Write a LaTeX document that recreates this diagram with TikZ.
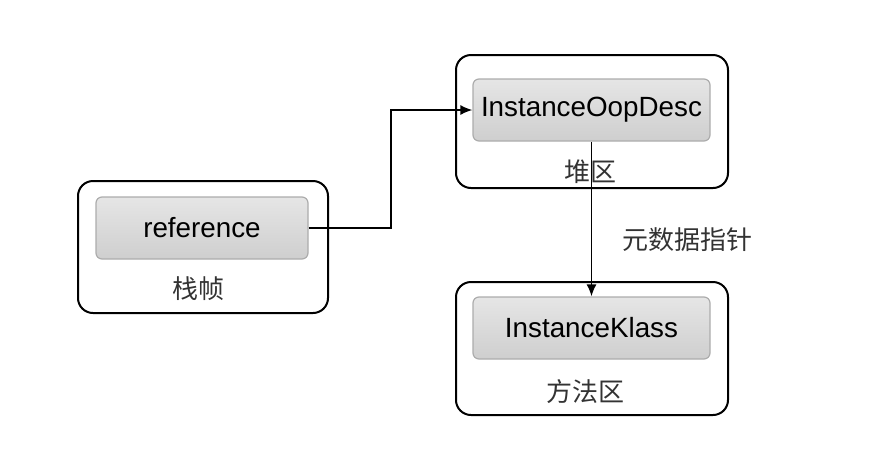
\documentclass[tikz,border=0pt]{standalone}
\usepackage{fontspec}
\setmainfont{Liberation Sans}
\newfontfamily\cjk{Noto Sans CJK SC}
\usetikzlibrary{positioning,arrows.meta}

\tikzset{
  region/.style={draw,line width=1pt,rounded corners=7.5pt,minimum width=136pt,minimum height=66.5pt},
  slot/.style={draw=gray!65,line width=.6pt,rounded corners=3pt,top color=gray!20,bottom color=gray!38,
    minimum width=118.5pt,minimum height=31pt,inner sep=0pt,font=\fontsize{13.9}{16}\selectfont},
  tag/.style={font=\cjk\fontsize{13}{15}\selectfont,text=black!80},
  link/.style={line width=.8pt,-{Latex[length=6pt,width=5pt]}}
}

\begin{document}
\begin{tikzpicture}[x=.5pt,y=-.5pt]
  \useasboundingbox (0,0) rectangle (885,462);
  % stack frame
  \node[region,minimum width=125pt,minimum height=66pt] (frame) at (203,247) {};
  \node[slot,minimum width=106pt] (ref) at (202,228) {reference};
  \node[tag] (framelbl) at (198,289) {栈帧};
  % heap
  \node[region] (heap) at (592,121.5) {};
  \node[slot] (oop) at (591.5,110) {InstanceOopDesc};
  \node[tag] (heaplbl) at (590,172) {堆区};
  % method area
  \node[region] (method) at (592,348.5) {};
  \node[slot] (klass) at (591.5,328) {InstanceKlass};
  \node[tag] (methodlbl) at (585,392) {方法区};
  % pointers
  \coordinate (turn) at (391,0);
  \draw[link] (ref.east) -- (ref.east -| turn) |- (oop.west);
  \draw[link] (oop.south) -- (klass.north);
  \node[tag] (metalbl) at (687,240) {元数据指针};
\end{tikzpicture}
\end{document}
